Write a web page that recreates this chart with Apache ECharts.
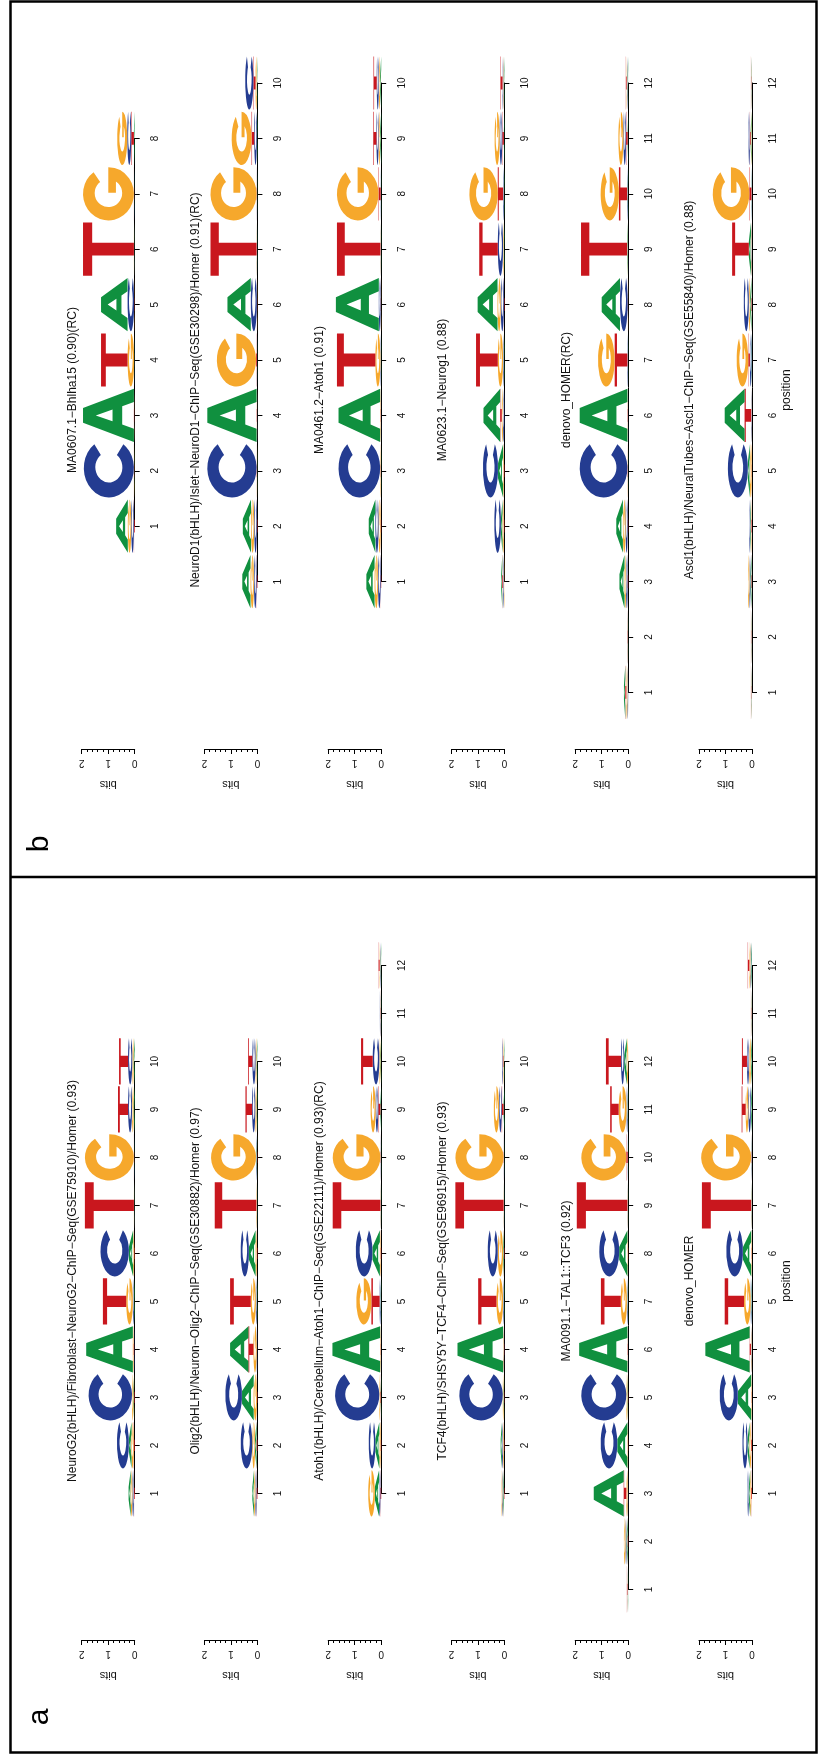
<!DOCTYPE html>
<html><head><meta charset="utf-8">
<script src="https://cdn.jsdelivr.net/npm/echarts@6/dist/echarts.min.js"></script>
<style>html,body{margin:0;padding:0;background:#fff}#c{width:819px;height:1760px}</style>
</head><body><div id="c"></div>
<script>
// ---------------- DATA ----------------
const letters = ['A', 'C', 'G', 'T'];
const bitTicks = [0, 1, 2];

// Panel a: information (bits) per position, columns [A, C, G, T]
const neurog2 = [[0.08,0.06,0.06,0.03],[0.10,0.45,0.08,0.04],[0.03,1.64,0.05,0.02],[1.76,0.02,0.03,0.02],[0.03,0.04,0.25,0.88],[0.16,1.07,0.04,0.02],[0.01,0.01,0.01,1.85],[0.01,0.01,1.85,0.01],[0.04,0.15,0.06,0.38],[0.04,0.16,0.05,0.34]];
const olig2 = [[0.06,0.05,0.05,0.03],[0.06,0.44,0.10,0.03],[0.44,0.63,0.12,0.02],[0.69,0.03,0.12,0.19],[0.02,0.04,0.19,0.78],[0.25,0.31,0.05,0.02],[0.01,0.01,0.02,1.57],[0.02,0.02,1.70,0.01],[0.03,0.12,0.05,0.25],[0.03,0.12,0.04,0.16]];
const atoh1RC = [[0.16,0.05,0.25,0.03],[0.15,0.25,0.05,0.02],[0.02,1.67,0.03,0.02],[1.80,0.01,0.02,0.01],[0.02,0.04,0.57,0.31],[0.28,0.63,0.03,0.02],[0.01,0.01,0.01,1.80],[0.01,0.01,1.80,0.01],[0.03,0.10,0.19,0.08],[0.03,0.25,0.04,0.44],[0.01,0.02,0.01,0.01],[0.02,0.02,0.02,0.04]];
const tcf4 = [[0.03,0.03,0.03,0.02],[0.05,0.04,0.03,0.02],[0.02,1.64,0.03,0.01],[1.72,0.02,0.02,0.01],[0.02,0.03,0.25,0.69],[0.03,0.38,0.20,0.02],[0.01,0.01,0.01,1.82],[0.01,0.01,1.82,0.01],[0.03,0.10,0.20,0.07],[0.02,0.03,0.02,0.02]];
const ma0091 = [[0.01,0.01,0.01,0.02],[0.04,0.04,0.06,0.02],[1.13,0.02,0.05,0.10],[0.38,0.63,0.02,0.01],[0.02,1.70,0.04,0.01],[1.82,0.01,0.01,0.01],[0.02,0.03,0.23,0.75],[0.31,0.75,0.02,0.01],[0.01,0.01,0.01,1.91],[0.01,0.01,1.70,0.05],[0.02,0.04,0.30,0.32],[0.10,0.12,0.05,0.57]];
const denovoA = [[0.05,0.05,0.04,0.03],[0.08,0.19,0.06,0.03],[0.50,0.69,0.02,0.01],[1.67,0.02,0.02,0.05],[0.02,0.03,0.25,0.73],[0.31,0.63,0.02,0.01],[0.01,0.01,0.01,1.86],[0.01,0.01,1.89,0.01],[0.04,0.10,0.10,0.15],[0.04,0.08,0.07,0.19],[0.01,0.01,0.01,0.01],[0.03,0.03,0.04,0.06]];

// Panel b
const ma0607 = [[0.44,0.10,0.13,0.03],[0.01,1.89,0.01,0.01],[1.92,0.01,0.01,0.01],[0.01,0.01,0.25,1.00],[1.00,0.25,0.01,0.01],[0.01,0.01,0.01,1.92],[0.01,0.01,1.92,0.01],[0.03,0.15,0.38,0.10]];
const neurod1 = [[0.31,0.10,0.13,0.03],[0.31,0.10,0.12,0.02],[0.01,1.86,0.01,0.01],[1.86,0.01,0.01,0.01],[0.01,0.01,1.48,0.03],[0.88,0.23,0.01,0.01],[0.01,0.01,0.01,1.74],[0.01,0.01,1.74,0.01],[0.02,0.10,0.75,0.10],[0.02,0.31,0.05,0.08]];
const ma0461 = [[0.31,0.10,0.13,0.02],[0.25,0.12,0.08,0.02],[0.01,1.57,0.02,0.01],[1.57,0.01,0.02,0.01],[0.01,0.02,0.19,1.45],[1.62,0.07,0.01,0.01],[0.01,0.01,0.01,1.64],[0.01,0.01,1.57,0.08],[0.04,0.08,0.06,0.12],[0.04,0.08,0.05,0.12]];
const ma0623 = [[0.04,0.03,0.02,0.03],[0.06,0.25,0.05,0.02],[0.19,0.57,0.03,0.02],[0.63,0.05,0.05,0.06],[0.02,0.03,0.20,0.82],[0.75,0.12,0.12,0.02],[0.02,0.20,0.03,0.70],[0.02,0.03,1.07,0.20],[0.02,0.10,0.19,0.06],[0.02,0.03,0.02,0.08]];
const denovoB = [[0.05,0.03,0.04,0.04],[0.01,0.01,0.01,0.01],[0.19,0.06,0.06,0.02],[0.25,0.08,0.10,0.02],[0.01,1.80,0.01,0.01],[1.80,0.01,0.01,0.01],[0.01,0.02,0.63,0.48],[0.69,0.29,0.01,0.01],[0.02,0.01,0.01,1.74],[0.02,0.02,0.69,0.31],[0.02,0.10,0.19,0.06],[0.02,0.02,0.02,0.03]];
const ascl1 = [[0.01,0.01,0.01,0.01],[0.01,0.01,0.01,0.01],[0.04,0.04,0.05,0.02],[0.03,0.03,0.02,0.02],[0.08,0.75,0.07,0.01],[0.75,0.02,0.01,0.25],[0.02,0.06,0.44,0.06],[0.05,0.19,0.05,0.02],[0.08,0.02,0.02,0.63],[0.01,0.01,1.38,0.08],[0.03,0.05,0.02,0.03],[0.01,0.01,0.01,0.01]];

const titlesA = [
  'NeuroG2(bHLH)/Fibroblast\u2212NeuroG2\u2212ChIP\u2212Seq(GSE75910)/Homer (0.93)',
  'Olig2(bHLH)/Neuron\u2212Olig2\u2212ChIP\u2212Seq(GSE30882)/Homer (0.97)',
  'Atoh1(bHLH)/Cerebellum\u2212Atoh1\u2212ChIP\u2212Seq(GSE22111)/Homer (0.93)(RC)',
  'TCF4(bHLH)/SHSY5Y\u2212TCF4\u2212ChIP\u2212Seq(GSE96915)/Homer (0.93)',
  'MA0091.1\u2212TAL1::TCF3 (0.92)',
  'denovo_HOMER'
];
const titlesB = [
  'MA0607.1\u2212Bhlha15 (0.90)(RC)',
  'NeuroD1(bHLH)/Islet\u2212NeuroD1\u2212ChIP\u2212Seq(GSE30298)/Homer (0.91)(RC)',
  'MA0461.2\u2212Atoh1 (0.91)',
  'MA0623.1\u2212Neurog1 (0.88)',
  'denovo_HOMER(RC)',
  'Ascl1(bHLH)/NeuralTubes\u2212Ascl1\u2212ChIP\u2212Seq(GSE55840)/Homer (0.88)'
];
// alignment offset: aligned slot = local position + offset
const offsetsA = [0, 0, 0, 0, -2, 0];
const offsetsB = [1, 0, 0, 0, -2, -2];
const logosA = [neurog2, olig2, atoh1RC, tcf4, ma0091, denovoA];
const logosB = [ma0607, neurod1, ma0461, ma0623, denovoB, ascl1];

// ---------------- STYLE / LAYOUT ----------------
const COLORS = ['#10903f', '#243c91', '#f6a82c', '#c9171e'];
const FONT = '"Liberation Sans", Arial, sans-serif';
const colX = [134.7, 257.4, 381.2, 504.4, 628.2, 752];
const BITS_W = 53;
const panels = [
  { logos: logosA, titles: titlesA, offs: offsetsA, y1: 1493.4, sp: 48, bitsY: 1640, cy: 1281, label: 'a', labelY: 1717 },
  { logos: logosB, titles: titlesB, offs: offsetsB, y1: 581.6, sp: 55.4, bitsY: 749, cy: 390, label: 'b', labelY: 844 }
];

// glyphs in upright 100x100 box, rotated 90deg CCW to match the figure
const GLYPHS = {
  A: [['M',0,100],['L',36,0],['L',64,0],['L',100,100],['L',75,100],['L',67,77],['L',33,77],['L',25,100],['Z'],['M',39,58],['L',61,58],['L',50,25],['Z']],
  C: [['M',90.5,21],['A',50,50,0,1,0,90.5,79],['L',72,66],['A',26,27,0,1,1,72,34],['Z']],
  G: [['M',90.5,21],['A',50,50,0,1,0,100,50],['L',52,50],['L',52,65],['L',73,65],['A',26,27,0,1,1,72,34],['Z']],
  T: [['M',0,0],['L',100,0],['L',100,18],['L',62,18],['L',62,100],['L',38,100],['L',38,18],['L',0,18],['Z']]
};
function rotPath(cmds) {
  return cmds.map(c => {
    if (c[0] === 'Z') return 'Z';
    if (c[0] === 'A') return 'A' + c[2] + ',' + c[1] + ' 0 ' + c[4] + ' ' + c[5] + ' ' + c[7] + ',' + (100 - c[6]);
    return c[0] + c[2] + ',' + (100 - c[1]);
  }).join(' ');
}
const PATHS = letters.map(l => rotPath(GLYPHS[l]));

function stackItems(mat) {
  const items = [];
  mat.forEach((row, i) => {
    const order = [0, 1, 2, 3].sort((a, b) => row[a] - row[b]);
    let acc = 0;
    order.forEach(li => {
      items.push([i + 1, li, acc, acc + row[li]]);
      acc += row[li];
    });
  });
  return items;
}

function renderLetter(params, api) {
  const pos = api.value(0), li = api.value(1), b0 = api.value(2), b1 = api.value(3);
  if (b1 - b0 <= 0) return;
  const p0 = api.coord([b0, pos]);
  const p1 = api.coord([b1, pos]);
  const h = api.size([0, 1])[1] * 0.96;
  return {
    type: 'path',
    shape: { pathData: PATHS[li], x: p1[0], y: p0[1] - h / 2, width: Math.max(p0[0] - p1[0], 0.01), height: h, layout: 'cover' },
    style: { fill: COLORS[li] }
  };
}

const grid = [], xAxis = [], yAxis = [], series = [], graphic = [];
panels.forEach(P => {
  P.logos.forEach((mat, k) => {
    const N = mat.length, off = P.offs[k];
    const gTop = P.y1 - (N + off - 1) * P.sp;
    const gBot = P.y1 - (1 + off - 1) * P.sp;
    const gi = grid.length;
    grid.push({ left: colX[k] - BITS_W, top: gTop, width: BITS_W, height: gBot - gTop, outerBoundsMode: 'none', containLabel: false });
    xAxis.push({ gridIndex: gi, type: 'value', min: 0, max: 2, inverse: true, show: false });
    yAxis.push({
      gridIndex: gi, type: 'value', min: 1, max: N, interval: 1, position: 'right',
      axisLine: { show: true, lineStyle: { color: '#000', width: 1 } },
      axisTick: { show: true, length: 5, lineStyle: { color: '#000', width: 1 } },
      axisLabel: { show: true, rotate: 90, margin: 16, fontSize: 10, color: '#111', fontFamily: FONT, showMinLabel: true, showMaxLabel: true },
      splitLine: { show: false }
    });
    series.push({ type: 'custom', xAxisIndex: gi, yAxisIndex: gi, clip: false, silent: true, renderItem: renderLetter, data: stackItems(mat) });

    // bits axis
    const bi = grid.length;
    grid.push({ left: colX[k] - BITS_W, top: P.bitsY - 10, width: BITS_W, height: 10, outerBoundsMode: 'none', containLabel: false });
    xAxis.push({
      gridIndex: bi, type: 'value', min: bitTicks[0], max: bitTicks[bitTicks.length - 1], interval: 1, inverse: true, position: 'bottom',
      axisLine: { show: true, lineStyle: { color: '#000', width: 1 } },
      axisTick: { show: true, length: 5, lineStyle: { color: '#000', width: 1 } },
      minorTick: { show: true, splitNumber: 5, length: 3, lineStyle: { color: '#000', width: 1 } },
      axisLabel: { show: true, rotate: 180, margin: 9, fontSize: 10, color: '#111', fontFamily: FONT, showMinLabel: true, showMaxLabel: true },
      splitLine: { show: false }, minorSplitLine: { show: false },
      name: 'bits', nameLocation: 'middle', nameRotate: 180, nameGap: 30,
      nameTextStyle: { fontSize: 11, color: '#111', fontFamily: FONT }
    });
    yAxis.push({ gridIndex: bi, type: 'value', show: false });

    graphic.push({
      type: 'text', x: colX[k] - 62, y: P.cy, rotation: Math.PI / 2, silent: true,
      style: { text: P.titles[k], fontSize: 12, fontFamily: FONT, fill: '#111', textAlign: 'center', textVerticalAlign: 'middle' }
    });
  });
  graphic.push({
    type: 'text', x: 786.5, y: P.cy, rotation: Math.PI / 2, silent: true,
    style: { text: 'position', fontSize: 12, fontFamily: FONT, fill: '#111', textAlign: 'center', textVerticalAlign: 'middle' }
  });
  graphic.push({
    type: 'text', x: 40, y: P.labelY, rotation: Math.PI / 2, silent: true,
    style: { text: P.label, fontSize: 30, fontFamily: FONT, fill: '#000', textAlign: 'center', textVerticalAlign: 'middle' }
  });
});
graphic.push({ type: 'rect', silent: true, shape: { x: 10.5, y: 1.5, width: 806, height: 1751 }, style: { fill: 'none', stroke: '#000', lineWidth: 2.5 } });
graphic.push({ type: 'line', silent: true, shape: { x1: 10.5, y1: 877, x2: 816.5, y2: 877 }, style: { stroke: '#000', lineWidth: 2.5 } });

const chart = echarts.init(document.getElementById('c'), null, { renderer: 'canvas' });
chart.setOption({ backgroundColor: '#fff', animation: false, grid, xAxis, yAxis, series, graphic });
</script></body></html>
